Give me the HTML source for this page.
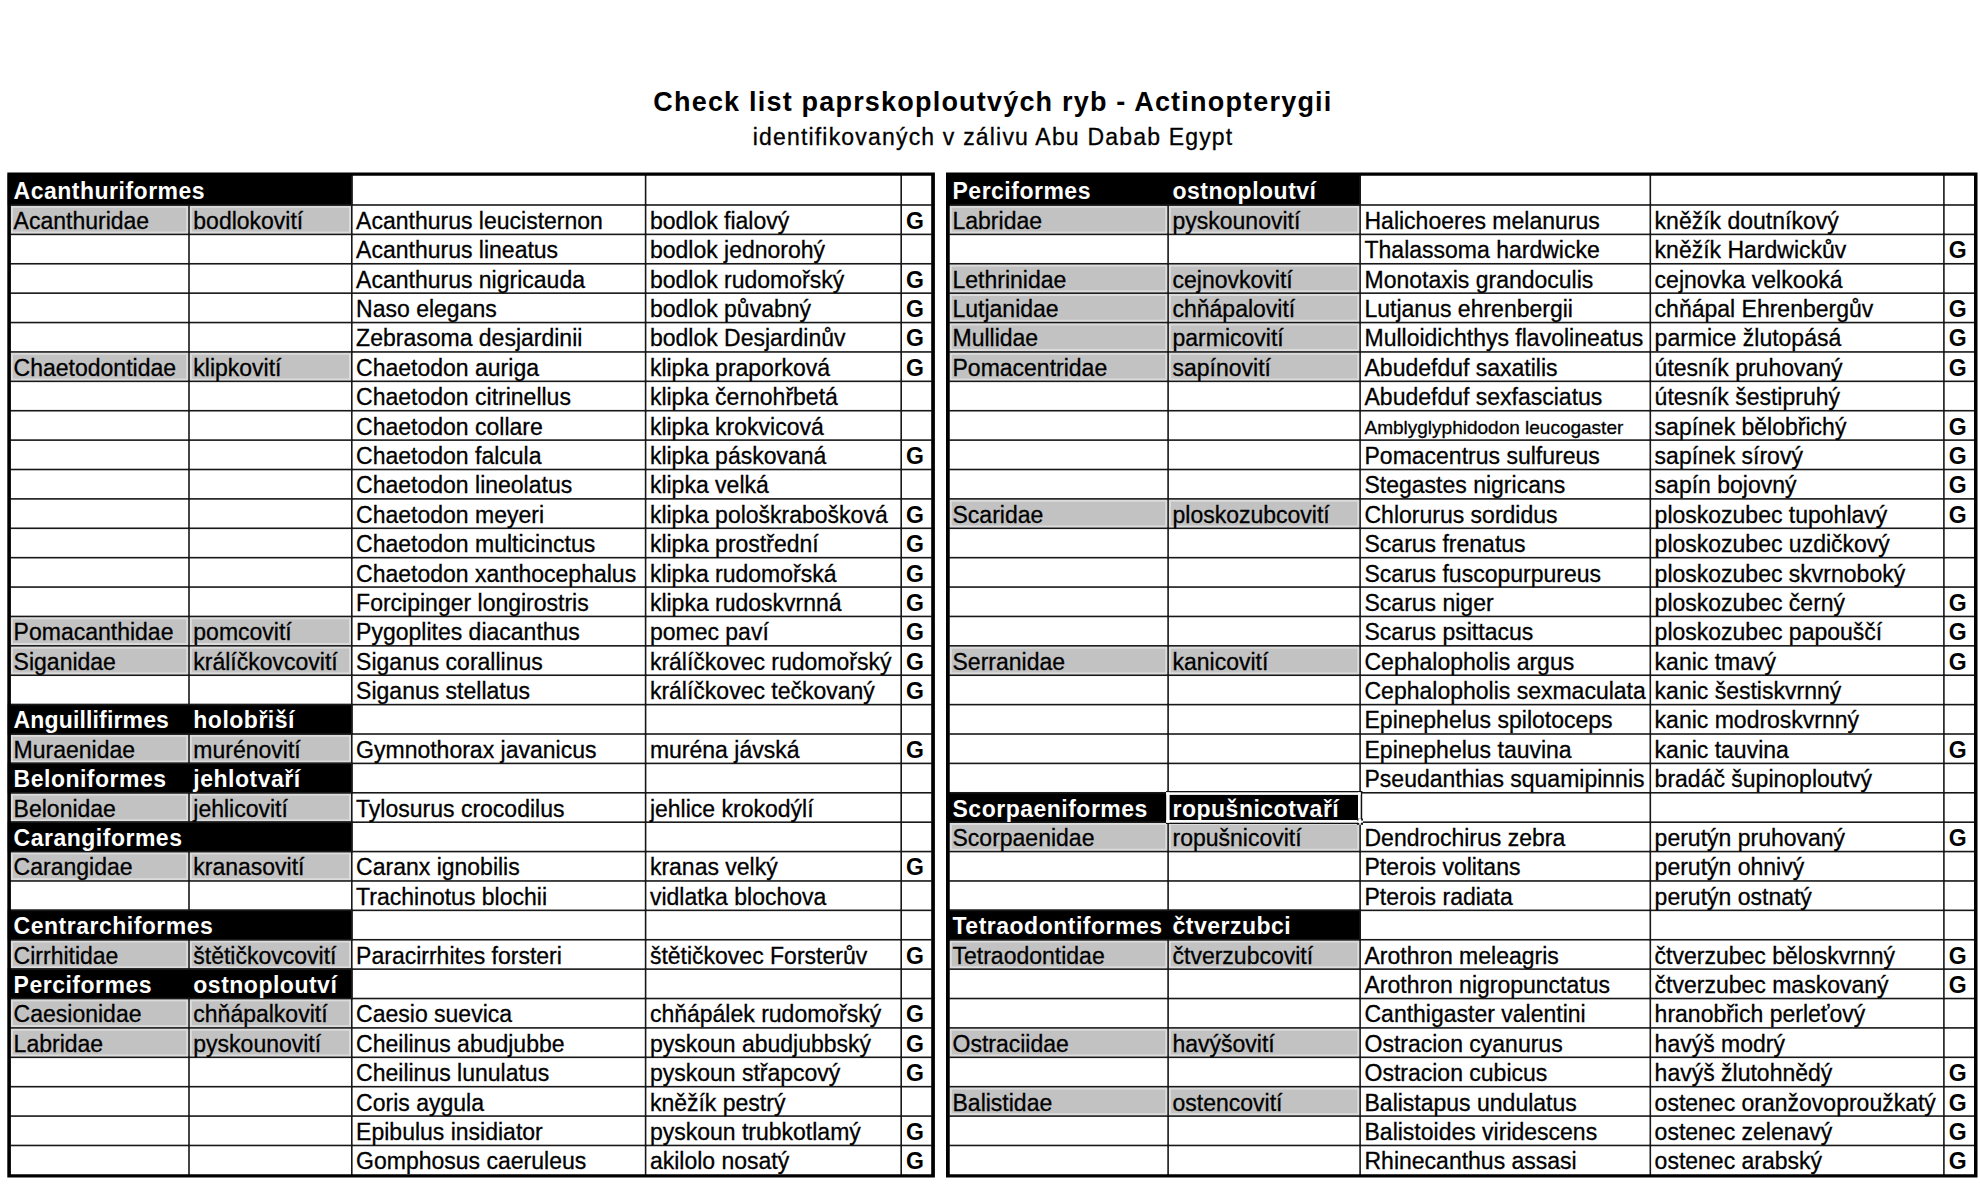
<!DOCTYPE html><html><head><meta charset="utf-8"><title>Check list</title><style>
html,body{margin:0;padding:0;background:#fff;}
body{width:1980px;height:1200px;position:relative;overflow:hidden;font-family:"Liberation Sans",sans-serif;}
svg{position:absolute;left:0;top:0;}
.t{position:absolute;white-space:nowrap;color:#000;}
.r{font-size:23px;line-height:26px;-webkit-text-stroke:0.3px #000;}
.g{font-size:23px;line-height:26px;font-weight:bold;}
.hb{font-size:23px;line-height:26px;font-weight:bold;color:#fff;letter-spacing:0.5px;}
.sm{font-size:19px;line-height:22px;-webkit-text-stroke:0.3px #000;}
.title{font-size:27px;line-height:30px;font-weight:bold;letter-spacing:1.2px;}
.sub{font-size:23px;line-height:26px;letter-spacing:1.185px;-webkit-text-stroke:0.3px #000;}
</style></head><body>
<svg width="1980" height="1200" viewBox="0 0 1980 1200">
<rect x="7.80" y="174.80" width="344.80" height="30.99" fill="#000"/>
<rect x="10.90" y="205.79" width="177.30" height="27.79" fill="#dcdcdc"/>
<rect x="12.90" y="207.79" width="173.30" height="23.79" fill="#c2c2c2"/>
<rect x="189.80" y="205.79" width="161.20" height="27.79" fill="#dcdcdc"/>
<rect x="191.80" y="207.79" width="157.20" height="23.79" fill="#c2c2c2"/>
<rect x="10.90" y="352.74" width="177.30" height="27.79" fill="#dcdcdc"/>
<rect x="12.90" y="354.74" width="173.30" height="23.79" fill="#c2c2c2"/>
<rect x="189.80" y="352.74" width="161.20" height="27.79" fill="#dcdcdc"/>
<rect x="191.80" y="354.74" width="157.20" height="23.79" fill="#c2c2c2"/>
<rect x="10.90" y="617.25" width="177.30" height="27.79" fill="#dcdcdc"/>
<rect x="12.90" y="619.25" width="173.30" height="23.79" fill="#c2c2c2"/>
<rect x="189.80" y="617.25" width="161.20" height="27.79" fill="#dcdcdc"/>
<rect x="191.80" y="619.25" width="157.20" height="23.79" fill="#c2c2c2"/>
<rect x="10.90" y="646.64" width="177.30" height="27.79" fill="#dcdcdc"/>
<rect x="12.90" y="648.64" width="173.30" height="23.79" fill="#c2c2c2"/>
<rect x="189.80" y="646.64" width="161.20" height="27.79" fill="#dcdcdc"/>
<rect x="191.80" y="648.64" width="157.20" height="23.79" fill="#c2c2c2"/>
<rect x="7.80" y="703.82" width="344.80" height="30.99" fill="#000"/>
<rect x="10.90" y="734.81" width="177.30" height="27.79" fill="#dcdcdc"/>
<rect x="12.90" y="736.81" width="173.30" height="23.79" fill="#c2c2c2"/>
<rect x="189.80" y="734.81" width="161.20" height="27.79" fill="#dcdcdc"/>
<rect x="191.80" y="736.81" width="157.20" height="23.79" fill="#c2c2c2"/>
<rect x="7.80" y="762.60" width="344.80" height="30.99" fill="#000"/>
<rect x="10.90" y="793.59" width="177.30" height="27.79" fill="#dcdcdc"/>
<rect x="12.90" y="795.59" width="173.30" height="23.79" fill="#c2c2c2"/>
<rect x="189.80" y="793.59" width="161.20" height="27.79" fill="#dcdcdc"/>
<rect x="191.80" y="795.59" width="157.20" height="23.79" fill="#c2c2c2"/>
<rect x="7.80" y="821.38" width="344.80" height="30.99" fill="#000"/>
<rect x="10.90" y="852.37" width="177.30" height="27.79" fill="#dcdcdc"/>
<rect x="12.90" y="854.37" width="173.30" height="23.79" fill="#c2c2c2"/>
<rect x="189.80" y="852.37" width="161.20" height="27.79" fill="#dcdcdc"/>
<rect x="191.80" y="854.37" width="157.20" height="23.79" fill="#c2c2c2"/>
<rect x="7.80" y="909.55" width="344.80" height="30.99" fill="#000"/>
<rect x="10.90" y="940.54" width="177.30" height="27.79" fill="#dcdcdc"/>
<rect x="12.90" y="942.54" width="173.30" height="23.79" fill="#c2c2c2"/>
<rect x="189.80" y="940.54" width="161.20" height="27.79" fill="#dcdcdc"/>
<rect x="191.80" y="942.54" width="157.20" height="23.79" fill="#c2c2c2"/>
<rect x="7.80" y="968.33" width="344.80" height="30.99" fill="#000"/>
<rect x="10.90" y="999.32" width="177.30" height="27.79" fill="#dcdcdc"/>
<rect x="12.90" y="1001.32" width="173.30" height="23.79" fill="#c2c2c2"/>
<rect x="189.80" y="999.32" width="161.20" height="27.79" fill="#dcdcdc"/>
<rect x="191.80" y="1001.32" width="157.20" height="23.79" fill="#c2c2c2"/>
<rect x="10.90" y="1028.71" width="177.30" height="27.79" fill="#dcdcdc"/>
<rect x="12.90" y="1030.71" width="173.30" height="23.79" fill="#c2c2c2"/>
<rect x="189.80" y="1028.71" width="161.20" height="27.79" fill="#dcdcdc"/>
<rect x="191.80" y="1030.71" width="157.20" height="23.79" fill="#c2c2c2"/>
<rect x="10.40" y="204.19" width="921.30" height="1.60" fill="#181818"/>
<rect x="10.40" y="233.58" width="921.30" height="1.60" fill="#181818"/>
<rect x="10.40" y="262.97" width="921.30" height="1.60" fill="#181818"/>
<rect x="10.40" y="292.36" width="921.30" height="1.60" fill="#181818"/>
<rect x="10.40" y="321.75" width="921.30" height="1.60" fill="#181818"/>
<rect x="10.40" y="351.14" width="921.30" height="1.60" fill="#181818"/>
<rect x="10.40" y="380.53" width="921.30" height="1.60" fill="#181818"/>
<rect x="10.40" y="409.92" width="921.30" height="1.60" fill="#181818"/>
<rect x="10.40" y="439.31" width="921.30" height="1.60" fill="#181818"/>
<rect x="10.40" y="468.70" width="921.30" height="1.60" fill="#181818"/>
<rect x="10.40" y="498.09" width="921.30" height="1.60" fill="#181818"/>
<rect x="10.40" y="527.48" width="921.30" height="1.60" fill="#181818"/>
<rect x="10.40" y="556.87" width="921.30" height="1.60" fill="#181818"/>
<rect x="10.40" y="586.26" width="921.30" height="1.60" fill="#181818"/>
<rect x="10.40" y="615.65" width="921.30" height="1.60" fill="#181818"/>
<rect x="10.40" y="645.04" width="921.30" height="1.60" fill="#181818"/>
<rect x="10.40" y="674.43" width="921.30" height="1.60" fill="#181818"/>
<rect x="10.40" y="703.82" width="921.30" height="1.60" fill="#181818"/>
<rect x="10.40" y="733.21" width="921.30" height="1.60" fill="#181818"/>
<rect x="10.40" y="762.60" width="921.30" height="1.60" fill="#181818"/>
<rect x="10.40" y="791.99" width="921.30" height="1.60" fill="#181818"/>
<rect x="10.40" y="821.38" width="921.30" height="1.60" fill="#181818"/>
<rect x="10.40" y="850.77" width="921.30" height="1.60" fill="#181818"/>
<rect x="10.40" y="880.16" width="921.30" height="1.60" fill="#181818"/>
<rect x="10.40" y="909.55" width="921.30" height="1.60" fill="#181818"/>
<rect x="10.40" y="938.94" width="921.30" height="1.60" fill="#181818"/>
<rect x="10.40" y="968.33" width="921.30" height="1.60" fill="#181818"/>
<rect x="10.40" y="997.72" width="921.30" height="1.60" fill="#181818"/>
<rect x="10.40" y="1027.11" width="921.30" height="1.60" fill="#181818"/>
<rect x="10.40" y="1056.50" width="921.30" height="1.60" fill="#181818"/>
<rect x="10.40" y="1085.89" width="921.30" height="1.60" fill="#181818"/>
<rect x="10.40" y="1115.28" width="921.30" height="1.60" fill="#181818"/>
<rect x="10.40" y="1144.67" width="921.30" height="1.60" fill="#181818"/>
<rect x="188.20" y="204.19" width="1.60" height="30.99" fill="#181818"/>
<rect x="188.20" y="233.58" width="1.60" height="30.99" fill="#181818"/>
<rect x="188.20" y="262.97" width="1.60" height="30.99" fill="#181818"/>
<rect x="188.20" y="292.36" width="1.60" height="30.99" fill="#181818"/>
<rect x="188.20" y="321.75" width="1.60" height="30.99" fill="#181818"/>
<rect x="188.20" y="351.14" width="1.60" height="30.99" fill="#181818"/>
<rect x="188.20" y="380.53" width="1.60" height="30.99" fill="#181818"/>
<rect x="188.20" y="409.92" width="1.60" height="30.99" fill="#181818"/>
<rect x="188.20" y="439.31" width="1.60" height="30.99" fill="#181818"/>
<rect x="188.20" y="468.70" width="1.60" height="30.99" fill="#181818"/>
<rect x="188.20" y="498.09" width="1.60" height="30.99" fill="#181818"/>
<rect x="188.20" y="527.48" width="1.60" height="30.99" fill="#181818"/>
<rect x="188.20" y="556.87" width="1.60" height="30.99" fill="#181818"/>
<rect x="188.20" y="586.26" width="1.60" height="30.99" fill="#181818"/>
<rect x="188.20" y="615.65" width="1.60" height="30.99" fill="#181818"/>
<rect x="188.20" y="645.04" width="1.60" height="30.99" fill="#181818"/>
<rect x="188.20" y="674.43" width="1.60" height="30.99" fill="#181818"/>
<rect x="188.20" y="733.21" width="1.60" height="30.99" fill="#181818"/>
<rect x="188.20" y="791.99" width="1.60" height="30.99" fill="#181818"/>
<rect x="188.20" y="850.77" width="1.60" height="30.99" fill="#181818"/>
<rect x="188.20" y="880.16" width="1.60" height="30.99" fill="#181818"/>
<rect x="188.20" y="938.94" width="1.60" height="30.99" fill="#181818"/>
<rect x="188.20" y="997.72" width="1.60" height="30.99" fill="#181818"/>
<rect x="188.20" y="1027.11" width="1.60" height="30.99" fill="#181818"/>
<rect x="188.20" y="1056.50" width="1.60" height="30.99" fill="#181818"/>
<rect x="188.20" y="1085.89" width="1.60" height="30.99" fill="#181818"/>
<rect x="188.20" y="1115.28" width="1.60" height="30.99" fill="#181818"/>
<rect x="188.20" y="1144.67" width="1.60" height="30.99" fill="#181818"/>
<rect x="351.00" y="174.80" width="1.60" height="30.99" fill="#181818"/>
<rect x="351.00" y="204.19" width="1.60" height="30.99" fill="#181818"/>
<rect x="351.00" y="233.58" width="1.60" height="30.99" fill="#181818"/>
<rect x="351.00" y="262.97" width="1.60" height="30.99" fill="#181818"/>
<rect x="351.00" y="292.36" width="1.60" height="30.99" fill="#181818"/>
<rect x="351.00" y="321.75" width="1.60" height="30.99" fill="#181818"/>
<rect x="351.00" y="351.14" width="1.60" height="30.99" fill="#181818"/>
<rect x="351.00" y="380.53" width="1.60" height="30.99" fill="#181818"/>
<rect x="351.00" y="409.92" width="1.60" height="30.99" fill="#181818"/>
<rect x="351.00" y="439.31" width="1.60" height="30.99" fill="#181818"/>
<rect x="351.00" y="468.70" width="1.60" height="30.99" fill="#181818"/>
<rect x="351.00" y="498.09" width="1.60" height="30.99" fill="#181818"/>
<rect x="351.00" y="527.48" width="1.60" height="30.99" fill="#181818"/>
<rect x="351.00" y="556.87" width="1.60" height="30.99" fill="#181818"/>
<rect x="351.00" y="586.26" width="1.60" height="30.99" fill="#181818"/>
<rect x="351.00" y="615.65" width="1.60" height="30.99" fill="#181818"/>
<rect x="351.00" y="645.04" width="1.60" height="30.99" fill="#181818"/>
<rect x="351.00" y="674.43" width="1.60" height="30.99" fill="#181818"/>
<rect x="351.00" y="703.82" width="1.60" height="30.99" fill="#181818"/>
<rect x="351.00" y="733.21" width="1.60" height="30.99" fill="#181818"/>
<rect x="351.00" y="762.60" width="1.60" height="30.99" fill="#181818"/>
<rect x="351.00" y="791.99" width="1.60" height="30.99" fill="#181818"/>
<rect x="351.00" y="821.38" width="1.60" height="30.99" fill="#181818"/>
<rect x="351.00" y="850.77" width="1.60" height="30.99" fill="#181818"/>
<rect x="351.00" y="880.16" width="1.60" height="30.99" fill="#181818"/>
<rect x="351.00" y="909.55" width="1.60" height="30.99" fill="#181818"/>
<rect x="351.00" y="938.94" width="1.60" height="30.99" fill="#181818"/>
<rect x="351.00" y="968.33" width="1.60" height="30.99" fill="#181818"/>
<rect x="351.00" y="997.72" width="1.60" height="30.99" fill="#181818"/>
<rect x="351.00" y="1027.11" width="1.60" height="30.99" fill="#181818"/>
<rect x="351.00" y="1056.50" width="1.60" height="30.99" fill="#181818"/>
<rect x="351.00" y="1085.89" width="1.60" height="30.99" fill="#181818"/>
<rect x="351.00" y="1115.28" width="1.60" height="30.99" fill="#181818"/>
<rect x="351.00" y="1144.67" width="1.60" height="30.99" fill="#181818"/>
<rect x="644.80" y="174.80" width="1.60" height="30.99" fill="#181818"/>
<rect x="644.80" y="204.19" width="1.60" height="30.99" fill="#181818"/>
<rect x="644.80" y="233.58" width="1.60" height="30.99" fill="#181818"/>
<rect x="644.80" y="262.97" width="1.60" height="30.99" fill="#181818"/>
<rect x="644.80" y="292.36" width="1.60" height="30.99" fill="#181818"/>
<rect x="644.80" y="321.75" width="1.60" height="30.99" fill="#181818"/>
<rect x="644.80" y="351.14" width="1.60" height="30.99" fill="#181818"/>
<rect x="644.80" y="380.53" width="1.60" height="30.99" fill="#181818"/>
<rect x="644.80" y="409.92" width="1.60" height="30.99" fill="#181818"/>
<rect x="644.80" y="439.31" width="1.60" height="30.99" fill="#181818"/>
<rect x="644.80" y="468.70" width="1.60" height="30.99" fill="#181818"/>
<rect x="644.80" y="498.09" width="1.60" height="30.99" fill="#181818"/>
<rect x="644.80" y="527.48" width="1.60" height="30.99" fill="#181818"/>
<rect x="644.80" y="556.87" width="1.60" height="30.99" fill="#181818"/>
<rect x="644.80" y="586.26" width="1.60" height="30.99" fill="#181818"/>
<rect x="644.80" y="615.65" width="1.60" height="30.99" fill="#181818"/>
<rect x="644.80" y="645.04" width="1.60" height="30.99" fill="#181818"/>
<rect x="644.80" y="674.43" width="1.60" height="30.99" fill="#181818"/>
<rect x="644.80" y="703.82" width="1.60" height="30.99" fill="#181818"/>
<rect x="644.80" y="733.21" width="1.60" height="30.99" fill="#181818"/>
<rect x="644.80" y="762.60" width="1.60" height="30.99" fill="#181818"/>
<rect x="644.80" y="791.99" width="1.60" height="30.99" fill="#181818"/>
<rect x="644.80" y="821.38" width="1.60" height="30.99" fill="#181818"/>
<rect x="644.80" y="850.77" width="1.60" height="30.99" fill="#181818"/>
<rect x="644.80" y="880.16" width="1.60" height="30.99" fill="#181818"/>
<rect x="644.80" y="909.55" width="1.60" height="30.99" fill="#181818"/>
<rect x="644.80" y="938.94" width="1.60" height="30.99" fill="#181818"/>
<rect x="644.80" y="968.33" width="1.60" height="30.99" fill="#181818"/>
<rect x="644.80" y="997.72" width="1.60" height="30.99" fill="#181818"/>
<rect x="644.80" y="1027.11" width="1.60" height="30.99" fill="#181818"/>
<rect x="644.80" y="1056.50" width="1.60" height="30.99" fill="#181818"/>
<rect x="644.80" y="1085.89" width="1.60" height="30.99" fill="#181818"/>
<rect x="644.80" y="1115.28" width="1.60" height="30.99" fill="#181818"/>
<rect x="644.80" y="1144.67" width="1.60" height="30.99" fill="#181818"/>
<rect x="900.40" y="174.80" width="1.60" height="30.99" fill="#181818"/>
<rect x="900.40" y="204.19" width="1.60" height="30.99" fill="#181818"/>
<rect x="900.40" y="233.58" width="1.60" height="30.99" fill="#181818"/>
<rect x="900.40" y="262.97" width="1.60" height="30.99" fill="#181818"/>
<rect x="900.40" y="292.36" width="1.60" height="30.99" fill="#181818"/>
<rect x="900.40" y="321.75" width="1.60" height="30.99" fill="#181818"/>
<rect x="900.40" y="351.14" width="1.60" height="30.99" fill="#181818"/>
<rect x="900.40" y="380.53" width="1.60" height="30.99" fill="#181818"/>
<rect x="900.40" y="409.92" width="1.60" height="30.99" fill="#181818"/>
<rect x="900.40" y="439.31" width="1.60" height="30.99" fill="#181818"/>
<rect x="900.40" y="468.70" width="1.60" height="30.99" fill="#181818"/>
<rect x="900.40" y="498.09" width="1.60" height="30.99" fill="#181818"/>
<rect x="900.40" y="527.48" width="1.60" height="30.99" fill="#181818"/>
<rect x="900.40" y="556.87" width="1.60" height="30.99" fill="#181818"/>
<rect x="900.40" y="586.26" width="1.60" height="30.99" fill="#181818"/>
<rect x="900.40" y="615.65" width="1.60" height="30.99" fill="#181818"/>
<rect x="900.40" y="645.04" width="1.60" height="30.99" fill="#181818"/>
<rect x="900.40" y="674.43" width="1.60" height="30.99" fill="#181818"/>
<rect x="900.40" y="703.82" width="1.60" height="30.99" fill="#181818"/>
<rect x="900.40" y="733.21" width="1.60" height="30.99" fill="#181818"/>
<rect x="900.40" y="762.60" width="1.60" height="30.99" fill="#181818"/>
<rect x="900.40" y="791.99" width="1.60" height="30.99" fill="#181818"/>
<rect x="900.40" y="821.38" width="1.60" height="30.99" fill="#181818"/>
<rect x="900.40" y="850.77" width="1.60" height="30.99" fill="#181818"/>
<rect x="900.40" y="880.16" width="1.60" height="30.99" fill="#181818"/>
<rect x="900.40" y="909.55" width="1.60" height="30.99" fill="#181818"/>
<rect x="900.40" y="938.94" width="1.60" height="30.99" fill="#181818"/>
<rect x="900.40" y="968.33" width="1.60" height="30.99" fill="#181818"/>
<rect x="900.40" y="997.72" width="1.60" height="30.99" fill="#181818"/>
<rect x="900.40" y="1027.11" width="1.60" height="30.99" fill="#181818"/>
<rect x="900.40" y="1056.50" width="1.60" height="30.99" fill="#181818"/>
<rect x="900.40" y="1085.89" width="1.60" height="30.99" fill="#181818"/>
<rect x="900.40" y="1115.28" width="1.60" height="30.99" fill="#181818"/>
<rect x="900.40" y="1144.67" width="1.60" height="30.99" fill="#181818"/>
<path fill="#000" fill-rule="evenodd" d="M7.30 172.60H934.90V1177.60H7.30Z M10.90 175.80V1174.20H931.20V175.80Z"/>
<rect x="946.50" y="174.80" width="414.40" height="30.99" fill="#000"/>
<rect x="949.75" y="205.79" width="217.55" height="27.79" fill="#dcdcdc"/>
<rect x="951.75" y="207.79" width="213.55" height="23.79" fill="#c2c2c2"/>
<rect x="1168.90" y="205.79" width="190.40" height="27.79" fill="#dcdcdc"/>
<rect x="1170.90" y="207.79" width="186.40" height="23.79" fill="#c2c2c2"/>
<rect x="949.75" y="264.57" width="217.55" height="27.79" fill="#dcdcdc"/>
<rect x="951.75" y="266.57" width="213.55" height="23.79" fill="#c2c2c2"/>
<rect x="1168.90" y="264.57" width="190.40" height="27.79" fill="#dcdcdc"/>
<rect x="1170.90" y="266.57" width="186.40" height="23.79" fill="#c2c2c2"/>
<rect x="949.75" y="293.96" width="217.55" height="27.79" fill="#dcdcdc"/>
<rect x="951.75" y="295.96" width="213.55" height="23.79" fill="#c2c2c2"/>
<rect x="1168.90" y="293.96" width="190.40" height="27.79" fill="#dcdcdc"/>
<rect x="1170.90" y="295.96" width="186.40" height="23.79" fill="#c2c2c2"/>
<rect x="949.75" y="323.35" width="217.55" height="27.79" fill="#dcdcdc"/>
<rect x="951.75" y="325.35" width="213.55" height="23.79" fill="#c2c2c2"/>
<rect x="1168.90" y="323.35" width="190.40" height="27.79" fill="#dcdcdc"/>
<rect x="1170.90" y="325.35" width="186.40" height="23.79" fill="#c2c2c2"/>
<rect x="949.75" y="352.74" width="217.55" height="27.79" fill="#dcdcdc"/>
<rect x="951.75" y="354.74" width="213.55" height="23.79" fill="#c2c2c2"/>
<rect x="1168.90" y="352.74" width="190.40" height="27.79" fill="#dcdcdc"/>
<rect x="1170.90" y="354.74" width="186.40" height="23.79" fill="#c2c2c2"/>
<rect x="949.75" y="499.69" width="217.55" height="27.79" fill="#dcdcdc"/>
<rect x="951.75" y="501.69" width="213.55" height="23.79" fill="#c2c2c2"/>
<rect x="1168.90" y="499.69" width="190.40" height="27.79" fill="#dcdcdc"/>
<rect x="1170.90" y="501.69" width="186.40" height="23.79" fill="#c2c2c2"/>
<rect x="949.75" y="646.64" width="217.55" height="27.79" fill="#dcdcdc"/>
<rect x="951.75" y="648.64" width="213.55" height="23.79" fill="#c2c2c2"/>
<rect x="1168.90" y="646.64" width="190.40" height="27.79" fill="#dcdcdc"/>
<rect x="1170.90" y="648.64" width="186.40" height="23.79" fill="#c2c2c2"/>
<rect x="946.50" y="791.99" width="414.40" height="30.99" fill="#000"/>
<rect x="949.75" y="822.98" width="217.55" height="27.79" fill="#dcdcdc"/>
<rect x="951.75" y="824.98" width="213.55" height="23.79" fill="#c2c2c2"/>
<rect x="1168.90" y="822.98" width="190.40" height="27.79" fill="#dcdcdc"/>
<rect x="1170.90" y="824.98" width="186.40" height="23.79" fill="#c2c2c2"/>
<rect x="946.50" y="909.55" width="414.40" height="30.99" fill="#000"/>
<rect x="949.75" y="940.54" width="217.55" height="27.79" fill="#dcdcdc"/>
<rect x="951.75" y="942.54" width="213.55" height="23.79" fill="#c2c2c2"/>
<rect x="1168.90" y="940.54" width="190.40" height="27.79" fill="#dcdcdc"/>
<rect x="1170.90" y="942.54" width="186.40" height="23.79" fill="#c2c2c2"/>
<rect x="949.75" y="1028.71" width="217.55" height="27.79" fill="#dcdcdc"/>
<rect x="951.75" y="1030.71" width="213.55" height="23.79" fill="#c2c2c2"/>
<rect x="1168.90" y="1028.71" width="190.40" height="27.79" fill="#dcdcdc"/>
<rect x="1170.90" y="1030.71" width="186.40" height="23.79" fill="#c2c2c2"/>
<rect x="949.75" y="1087.49" width="217.55" height="27.79" fill="#dcdcdc"/>
<rect x="951.75" y="1089.49" width="213.55" height="23.79" fill="#c2c2c2"/>
<rect x="1168.90" y="1087.49" width="190.40" height="27.79" fill="#dcdcdc"/>
<rect x="1170.90" y="1089.49" width="186.40" height="23.79" fill="#c2c2c2"/>
<rect x="949.25" y="204.19" width="1025.25" height="1.60" fill="#181818"/>
<rect x="949.25" y="233.58" width="1025.25" height="1.60" fill="#181818"/>
<rect x="949.25" y="262.97" width="1025.25" height="1.60" fill="#181818"/>
<rect x="949.25" y="292.36" width="1025.25" height="1.60" fill="#181818"/>
<rect x="949.25" y="321.75" width="1025.25" height="1.60" fill="#181818"/>
<rect x="949.25" y="351.14" width="1025.25" height="1.60" fill="#181818"/>
<rect x="949.25" y="380.53" width="1025.25" height="1.60" fill="#181818"/>
<rect x="949.25" y="409.92" width="1025.25" height="1.60" fill="#181818"/>
<rect x="949.25" y="439.31" width="1025.25" height="1.60" fill="#181818"/>
<rect x="949.25" y="468.70" width="1025.25" height="1.60" fill="#181818"/>
<rect x="949.25" y="498.09" width="1025.25" height="1.60" fill="#181818"/>
<rect x="949.25" y="527.48" width="1025.25" height="1.60" fill="#181818"/>
<rect x="949.25" y="556.87" width="1025.25" height="1.60" fill="#181818"/>
<rect x="949.25" y="586.26" width="1025.25" height="1.60" fill="#181818"/>
<rect x="949.25" y="615.65" width="1025.25" height="1.60" fill="#181818"/>
<rect x="949.25" y="645.04" width="1025.25" height="1.60" fill="#181818"/>
<rect x="949.25" y="674.43" width="1025.25" height="1.60" fill="#181818"/>
<rect x="949.25" y="703.82" width="1025.25" height="1.60" fill="#181818"/>
<rect x="949.25" y="733.21" width="1025.25" height="1.60" fill="#181818"/>
<rect x="949.25" y="762.60" width="1025.25" height="1.60" fill="#181818"/>
<rect x="949.25" y="791.99" width="1025.25" height="1.60" fill="#181818"/>
<rect x="949.25" y="821.38" width="1025.25" height="1.60" fill="#181818"/>
<rect x="949.25" y="850.77" width="1025.25" height="1.60" fill="#181818"/>
<rect x="949.25" y="880.16" width="1025.25" height="1.60" fill="#181818"/>
<rect x="949.25" y="909.55" width="1025.25" height="1.60" fill="#181818"/>
<rect x="949.25" y="938.94" width="1025.25" height="1.60" fill="#181818"/>
<rect x="949.25" y="968.33" width="1025.25" height="1.60" fill="#181818"/>
<rect x="949.25" y="997.72" width="1025.25" height="1.60" fill="#181818"/>
<rect x="949.25" y="1027.11" width="1025.25" height="1.60" fill="#181818"/>
<rect x="949.25" y="1056.50" width="1025.25" height="1.60" fill="#181818"/>
<rect x="949.25" y="1085.89" width="1025.25" height="1.60" fill="#181818"/>
<rect x="949.25" y="1115.28" width="1025.25" height="1.60" fill="#181818"/>
<rect x="949.25" y="1144.67" width="1025.25" height="1.60" fill="#181818"/>
<rect x="1167.30" y="204.19" width="1.60" height="30.99" fill="#181818"/>
<rect x="1167.30" y="233.58" width="1.60" height="30.99" fill="#181818"/>
<rect x="1167.30" y="262.97" width="1.60" height="30.99" fill="#181818"/>
<rect x="1167.30" y="292.36" width="1.60" height="30.99" fill="#181818"/>
<rect x="1167.30" y="321.75" width="1.60" height="30.99" fill="#181818"/>
<rect x="1167.30" y="351.14" width="1.60" height="30.99" fill="#181818"/>
<rect x="1167.30" y="380.53" width="1.60" height="30.99" fill="#181818"/>
<rect x="1167.30" y="409.92" width="1.60" height="30.99" fill="#181818"/>
<rect x="1167.30" y="439.31" width="1.60" height="30.99" fill="#181818"/>
<rect x="1167.30" y="468.70" width="1.60" height="30.99" fill="#181818"/>
<rect x="1167.30" y="498.09" width="1.60" height="30.99" fill="#181818"/>
<rect x="1167.30" y="527.48" width="1.60" height="30.99" fill="#181818"/>
<rect x="1167.30" y="556.87" width="1.60" height="30.99" fill="#181818"/>
<rect x="1167.30" y="586.26" width="1.60" height="30.99" fill="#181818"/>
<rect x="1167.30" y="615.65" width="1.60" height="30.99" fill="#181818"/>
<rect x="1167.30" y="645.04" width="1.60" height="30.99" fill="#181818"/>
<rect x="1167.30" y="674.43" width="1.60" height="30.99" fill="#181818"/>
<rect x="1167.30" y="703.82" width="1.60" height="30.99" fill="#181818"/>
<rect x="1167.30" y="733.21" width="1.60" height="30.99" fill="#181818"/>
<rect x="1167.30" y="762.60" width="1.60" height="30.99" fill="#181818"/>
<rect x="1167.30" y="821.38" width="1.60" height="30.99" fill="#181818"/>
<rect x="1167.30" y="850.77" width="1.60" height="30.99" fill="#181818"/>
<rect x="1167.30" y="880.16" width="1.60" height="30.99" fill="#181818"/>
<rect x="1167.30" y="938.94" width="1.60" height="30.99" fill="#181818"/>
<rect x="1167.30" y="968.33" width="1.60" height="30.99" fill="#181818"/>
<rect x="1167.30" y="997.72" width="1.60" height="30.99" fill="#181818"/>
<rect x="1167.30" y="1027.11" width="1.60" height="30.99" fill="#181818"/>
<rect x="1167.30" y="1056.50" width="1.60" height="30.99" fill="#181818"/>
<rect x="1167.30" y="1085.89" width="1.60" height="30.99" fill="#181818"/>
<rect x="1167.30" y="1115.28" width="1.60" height="30.99" fill="#181818"/>
<rect x="1167.30" y="1144.67" width="1.60" height="30.99" fill="#181818"/>
<rect x="1359.30" y="174.80" width="1.60" height="30.99" fill="#181818"/>
<rect x="1359.30" y="204.19" width="1.60" height="30.99" fill="#181818"/>
<rect x="1359.30" y="233.58" width="1.60" height="30.99" fill="#181818"/>
<rect x="1359.30" y="262.97" width="1.60" height="30.99" fill="#181818"/>
<rect x="1359.30" y="292.36" width="1.60" height="30.99" fill="#181818"/>
<rect x="1359.30" y="321.75" width="1.60" height="30.99" fill="#181818"/>
<rect x="1359.30" y="351.14" width="1.60" height="30.99" fill="#181818"/>
<rect x="1359.30" y="380.53" width="1.60" height="30.99" fill="#181818"/>
<rect x="1359.30" y="409.92" width="1.60" height="30.99" fill="#181818"/>
<rect x="1359.30" y="439.31" width="1.60" height="30.99" fill="#181818"/>
<rect x="1359.30" y="468.70" width="1.60" height="30.99" fill="#181818"/>
<rect x="1359.30" y="498.09" width="1.60" height="30.99" fill="#181818"/>
<rect x="1359.30" y="527.48" width="1.60" height="30.99" fill="#181818"/>
<rect x="1359.30" y="556.87" width="1.60" height="30.99" fill="#181818"/>
<rect x="1359.30" y="586.26" width="1.60" height="30.99" fill="#181818"/>
<rect x="1359.30" y="615.65" width="1.60" height="30.99" fill="#181818"/>
<rect x="1359.30" y="645.04" width="1.60" height="30.99" fill="#181818"/>
<rect x="1359.30" y="674.43" width="1.60" height="30.99" fill="#181818"/>
<rect x="1359.30" y="703.82" width="1.60" height="30.99" fill="#181818"/>
<rect x="1359.30" y="733.21" width="1.60" height="30.99" fill="#181818"/>
<rect x="1359.30" y="762.60" width="1.60" height="30.99" fill="#181818"/>
<rect x="1359.30" y="791.99" width="1.60" height="30.99" fill="#181818"/>
<rect x="1359.30" y="821.38" width="1.60" height="30.99" fill="#181818"/>
<rect x="1359.30" y="850.77" width="1.60" height="30.99" fill="#181818"/>
<rect x="1359.30" y="880.16" width="1.60" height="30.99" fill="#181818"/>
<rect x="1359.30" y="909.55" width="1.60" height="30.99" fill="#181818"/>
<rect x="1359.30" y="938.94" width="1.60" height="30.99" fill="#181818"/>
<rect x="1359.30" y="968.33" width="1.60" height="30.99" fill="#181818"/>
<rect x="1359.30" y="997.72" width="1.60" height="30.99" fill="#181818"/>
<rect x="1359.30" y="1027.11" width="1.60" height="30.99" fill="#181818"/>
<rect x="1359.30" y="1056.50" width="1.60" height="30.99" fill="#181818"/>
<rect x="1359.30" y="1085.89" width="1.60" height="30.99" fill="#181818"/>
<rect x="1359.30" y="1115.28" width="1.60" height="30.99" fill="#181818"/>
<rect x="1359.30" y="1144.67" width="1.60" height="30.99" fill="#181818"/>
<rect x="1649.50" y="174.80" width="1.60" height="30.99" fill="#181818"/>
<rect x="1649.50" y="204.19" width="1.60" height="30.99" fill="#181818"/>
<rect x="1649.50" y="233.58" width="1.60" height="30.99" fill="#181818"/>
<rect x="1649.50" y="262.97" width="1.60" height="30.99" fill="#181818"/>
<rect x="1649.50" y="292.36" width="1.60" height="30.99" fill="#181818"/>
<rect x="1649.50" y="321.75" width="1.60" height="30.99" fill="#181818"/>
<rect x="1649.50" y="351.14" width="1.60" height="30.99" fill="#181818"/>
<rect x="1649.50" y="380.53" width="1.60" height="30.99" fill="#181818"/>
<rect x="1649.50" y="409.92" width="1.60" height="30.99" fill="#181818"/>
<rect x="1649.50" y="439.31" width="1.60" height="30.99" fill="#181818"/>
<rect x="1649.50" y="468.70" width="1.60" height="30.99" fill="#181818"/>
<rect x="1649.50" y="498.09" width="1.60" height="30.99" fill="#181818"/>
<rect x="1649.50" y="527.48" width="1.60" height="30.99" fill="#181818"/>
<rect x="1649.50" y="556.87" width="1.60" height="30.99" fill="#181818"/>
<rect x="1649.50" y="586.26" width="1.60" height="30.99" fill="#181818"/>
<rect x="1649.50" y="615.65" width="1.60" height="30.99" fill="#181818"/>
<rect x="1649.50" y="645.04" width="1.60" height="30.99" fill="#181818"/>
<rect x="1649.50" y="674.43" width="1.60" height="30.99" fill="#181818"/>
<rect x="1649.50" y="703.82" width="1.60" height="30.99" fill="#181818"/>
<rect x="1649.50" y="733.21" width="1.60" height="30.99" fill="#181818"/>
<rect x="1649.50" y="762.60" width="1.60" height="30.99" fill="#181818"/>
<rect x="1649.50" y="791.99" width="1.60" height="30.99" fill="#181818"/>
<rect x="1649.50" y="821.38" width="1.60" height="30.99" fill="#181818"/>
<rect x="1649.50" y="850.77" width="1.60" height="30.99" fill="#181818"/>
<rect x="1649.50" y="880.16" width="1.60" height="30.99" fill="#181818"/>
<rect x="1649.50" y="909.55" width="1.60" height="30.99" fill="#181818"/>
<rect x="1649.50" y="938.94" width="1.60" height="30.99" fill="#181818"/>
<rect x="1649.50" y="968.33" width="1.60" height="30.99" fill="#181818"/>
<rect x="1649.50" y="997.72" width="1.60" height="30.99" fill="#181818"/>
<rect x="1649.50" y="1027.11" width="1.60" height="30.99" fill="#181818"/>
<rect x="1649.50" y="1056.50" width="1.60" height="30.99" fill="#181818"/>
<rect x="1649.50" y="1085.89" width="1.60" height="30.99" fill="#181818"/>
<rect x="1649.50" y="1115.28" width="1.60" height="30.99" fill="#181818"/>
<rect x="1649.50" y="1144.67" width="1.60" height="30.99" fill="#181818"/>
<rect x="1943.10" y="174.80" width="1.60" height="30.99" fill="#181818"/>
<rect x="1943.10" y="204.19" width="1.60" height="30.99" fill="#181818"/>
<rect x="1943.10" y="233.58" width="1.60" height="30.99" fill="#181818"/>
<rect x="1943.10" y="262.97" width="1.60" height="30.99" fill="#181818"/>
<rect x="1943.10" y="292.36" width="1.60" height="30.99" fill="#181818"/>
<rect x="1943.10" y="321.75" width="1.60" height="30.99" fill="#181818"/>
<rect x="1943.10" y="351.14" width="1.60" height="30.99" fill="#181818"/>
<rect x="1943.10" y="380.53" width="1.60" height="30.99" fill="#181818"/>
<rect x="1943.10" y="409.92" width="1.60" height="30.99" fill="#181818"/>
<rect x="1943.10" y="439.31" width="1.60" height="30.99" fill="#181818"/>
<rect x="1943.10" y="468.70" width="1.60" height="30.99" fill="#181818"/>
<rect x="1943.10" y="498.09" width="1.60" height="30.99" fill="#181818"/>
<rect x="1943.10" y="527.48" width="1.60" height="30.99" fill="#181818"/>
<rect x="1943.10" y="556.87" width="1.60" height="30.99" fill="#181818"/>
<rect x="1943.10" y="586.26" width="1.60" height="30.99" fill="#181818"/>
<rect x="1943.10" y="615.65" width="1.60" height="30.99" fill="#181818"/>
<rect x="1943.10" y="645.04" width="1.60" height="30.99" fill="#181818"/>
<rect x="1943.10" y="674.43" width="1.60" height="30.99" fill="#181818"/>
<rect x="1943.10" y="703.82" width="1.60" height="30.99" fill="#181818"/>
<rect x="1943.10" y="733.21" width="1.60" height="30.99" fill="#181818"/>
<rect x="1943.10" y="762.60" width="1.60" height="30.99" fill="#181818"/>
<rect x="1943.10" y="791.99" width="1.60" height="30.99" fill="#181818"/>
<rect x="1943.10" y="821.38" width="1.60" height="30.99" fill="#181818"/>
<rect x="1943.10" y="850.77" width="1.60" height="30.99" fill="#181818"/>
<rect x="1943.10" y="880.16" width="1.60" height="30.99" fill="#181818"/>
<rect x="1943.10" y="909.55" width="1.60" height="30.99" fill="#181818"/>
<rect x="1943.10" y="938.94" width="1.60" height="30.99" fill="#181818"/>
<rect x="1943.10" y="968.33" width="1.60" height="30.99" fill="#181818"/>
<rect x="1943.10" y="997.72" width="1.60" height="30.99" fill="#181818"/>
<rect x="1943.10" y="1027.11" width="1.60" height="30.99" fill="#181818"/>
<rect x="1943.10" y="1056.50" width="1.60" height="30.99" fill="#181818"/>
<rect x="1943.10" y="1085.89" width="1.60" height="30.99" fill="#181818"/>
<rect x="1943.10" y="1115.28" width="1.60" height="30.99" fill="#181818"/>
<rect x="1943.10" y="1144.67" width="1.60" height="30.99" fill="#181818"/>
<path fill="#000" fill-rule="evenodd" d="M946.00 172.60H1977.50V1177.60H946.00Z M949.75 175.80V1174.20H1974.00V175.80Z"/>
<rect x="1166.00" y="791.00" width="196.20" height="1.30" fill="#111"/>
<rect x="1166.00" y="822.70" width="196.20" height="1.30" fill="#111"/>
<rect x="1360.70" y="791.00" width="1.50" height="33.00" fill="#111"/>
<rect x="1166.20" y="792.30" width="194.50" height="2.60" fill="#fff"/>
<rect x="1166.20" y="820.00" width="194.50" height="2.70" fill="#fff"/>
<rect x="1166.20" y="792.30" width="3.40" height="30.40" fill="#fff"/>
<rect x="1358.00" y="792.30" width="2.70" height="30.40" fill="#fff"/>
<rect x="1357.0" y="818.6" width="6.0" height="6.2" fill="#111"/>
<rect x="1358.4" y="819.2" width="2.8" height="3.8" fill="#fff"/>
<rect x="1359.2" y="818.6" width="1.6" height="6.2" fill="#fff"/>
<rect x="1357.0" y="820.6" width="6.0" height="2.0" fill="#fff"/>
</svg>
<div class="t title" style="left:653.3px;top:87.30px">Check list paprskoploutvých ryb - Actinopterygii</div>
<div class="t sub" style="left:752.7px;top:123.50px">identifikovaných v zálivu Abu Dabab Egypt</div>
<div class="t hb" style="left:13.6px;top:178.45px">Acanthuriformes</div>
<div class="t r" style="left:13.6px;top:207.84px">Acanthuridae</div>
<div class="t r" style="left:193.3px;top:207.84px">bodlokovití</div>
<div class="t r" style="left:356.1px;top:207.84px">Acanthurus leucisternon</div>
<div class="t r" style="left:649.9px;top:207.84px">bodlok fialový</div>
<div class="t g" style="left:906.0px;top:207.84px">G</div>
<div class="t r" style="left:356.1px;top:237.23px">Acanthurus lineatus</div>
<div class="t r" style="left:649.9px;top:237.23px">bodlok jednorohý</div>
<div class="t r" style="left:356.1px;top:266.62px">Acanthurus nigricauda</div>
<div class="t r" style="left:649.9px;top:266.62px">bodlok rudomořský</div>
<div class="t g" style="left:906.0px;top:266.62px">G</div>
<div class="t r" style="left:356.1px;top:296.01px">Naso elegans</div>
<div class="t r" style="left:649.9px;top:296.01px">bodlok půvabný</div>
<div class="t g" style="left:906.0px;top:296.01px">G</div>
<div class="t r" style="left:356.1px;top:325.40px">Zebrasoma desjardinii</div>
<div class="t r" style="left:649.9px;top:325.40px">bodlok Desjardinův</div>
<div class="t g" style="left:906.0px;top:325.40px">G</div>
<div class="t r" style="left:13.6px;top:354.79px">Chaetodontidae</div>
<div class="t r" style="left:193.3px;top:354.79px">klipkovití</div>
<div class="t r" style="left:356.1px;top:354.79px">Chaetodon auriga</div>
<div class="t r" style="left:649.9px;top:354.79px">klipka praporková</div>
<div class="t g" style="left:906.0px;top:354.79px">G</div>
<div class="t r" style="left:356.1px;top:384.18px">Chaetodon citrinellus</div>
<div class="t r" style="left:649.9px;top:384.18px">klipka černohřbetá</div>
<div class="t r" style="left:356.1px;top:413.57px">Chaetodon collare</div>
<div class="t r" style="left:649.9px;top:413.57px">klipka krokvicová</div>
<div class="t r" style="left:356.1px;top:442.96px">Chaetodon falcula</div>
<div class="t r" style="left:649.9px;top:442.96px">klipka páskovaná</div>
<div class="t g" style="left:906.0px;top:442.96px">G</div>
<div class="t r" style="left:356.1px;top:472.35px">Chaetodon lineolatus</div>
<div class="t r" style="left:649.9px;top:472.35px">klipka velká</div>
<div class="t r" style="left:356.1px;top:501.74px">Chaetodon meyeri</div>
<div class="t r" style="left:649.9px;top:501.74px">klipka pološkrabošková</div>
<div class="t g" style="left:906.0px;top:501.74px">G</div>
<div class="t r" style="left:356.1px;top:531.13px">Chaetodon multicinctus</div>
<div class="t r" style="left:649.9px;top:531.13px">klipka prostřední</div>
<div class="t g" style="left:906.0px;top:531.13px">G</div>
<div class="t r" style="left:356.1px;top:560.52px">Chaetodon xanthocephalus</div>
<div class="t r" style="left:649.9px;top:560.52px">klipka rudomořská</div>
<div class="t g" style="left:906.0px;top:560.52px">G</div>
<div class="t r" style="left:356.1px;top:589.91px">Forcipinger longirostris</div>
<div class="t r" style="left:649.9px;top:589.91px">klipka rudoskvrnná</div>
<div class="t g" style="left:906.0px;top:589.91px">G</div>
<div class="t r" style="left:13.6px;top:619.30px">Pomacanthidae</div>
<div class="t r" style="left:193.3px;top:619.30px">pomcovití</div>
<div class="t r" style="left:356.1px;top:619.30px">Pygoplites diacanthus</div>
<div class="t r" style="left:649.9px;top:619.30px">pomec paví</div>
<div class="t g" style="left:906.0px;top:619.30px">G</div>
<div class="t r" style="left:13.6px;top:648.69px">Siganidae</div>
<div class="t r" style="left:193.3px;top:648.69px">králíčkovcovití</div>
<div class="t r" style="left:356.1px;top:648.69px">Siganus corallinus</div>
<div class="t r" style="left:649.9px;top:648.69px">králíčkovec rudomořský</div>
<div class="t g" style="left:906.0px;top:648.69px">G</div>
<div class="t r" style="left:356.1px;top:678.08px">Siganus stellatus</div>
<div class="t r" style="left:649.9px;top:678.08px">králíčkovec tečkovaný</div>
<div class="t g" style="left:906.0px;top:678.08px">G</div>
<div class="t hb" style="left:13.6px;top:707.47px;letter-spacing:0.15px">Anguillifirmes</div>
<div class="t hb" style="left:193.3px;top:707.47px">holobřiší</div>
<div class="t r" style="left:13.6px;top:736.86px">Muraenidae</div>
<div class="t r" style="left:193.3px;top:736.86px">murénovití</div>
<div class="t r" style="left:356.1px;top:736.86px">Gymnothorax javanicus</div>
<div class="t r" style="left:649.9px;top:736.86px">muréna jávská</div>
<div class="t g" style="left:906.0px;top:736.86px">G</div>
<div class="t hb" style="left:13.6px;top:766.25px">Beloniformes</div>
<div class="t hb" style="left:193.3px;top:766.25px">jehlotvaří</div>
<div class="t r" style="left:13.6px;top:795.64px">Belonidae</div>
<div class="t r" style="left:193.3px;top:795.64px">jehlicovití</div>
<div class="t r" style="left:356.1px;top:795.64px">Tylosurus crocodilus</div>
<div class="t r" style="left:649.9px;top:795.64px">jehlice krokodýlí</div>
<div class="t hb" style="left:13.6px;top:825.03px">Carangiformes</div>
<div class="t r" style="left:13.6px;top:854.42px">Carangidae</div>
<div class="t r" style="left:193.3px;top:854.42px">kranasovití</div>
<div class="t r" style="left:356.1px;top:854.42px">Caranx ignobilis</div>
<div class="t r" style="left:649.9px;top:854.42px">kranas velký</div>
<div class="t g" style="left:906.0px;top:854.42px">G</div>
<div class="t r" style="left:356.1px;top:883.81px">Trachinotus blochii</div>
<div class="t r" style="left:649.9px;top:883.81px">vidlatka blochova</div>
<div class="t hb" style="left:13.6px;top:913.20px">Centrarchiformes</div>
<div class="t r" style="left:13.6px;top:942.59px">Cirrhitidae</div>
<div class="t r" style="left:193.3px;top:942.59px">štětičkovcovití</div>
<div class="t r" style="left:356.1px;top:942.59px">Paracirrhites forsteri</div>
<div class="t r" style="left:649.9px;top:942.59px">štětičkovec Forsterův</div>
<div class="t g" style="left:906.0px;top:942.59px">G</div>
<div class="t hb" style="left:13.6px;top:971.98px">Perciformes</div>
<div class="t hb" style="left:193.3px;top:971.98px">ostnoploutví</div>
<div class="t r" style="left:13.6px;top:1001.37px">Caesionidae</div>
<div class="t r" style="left:193.3px;top:1001.37px">chňápalkovití</div>
<div class="t r" style="left:356.1px;top:1001.37px">Caesio suevica</div>
<div class="t r" style="left:649.9px;top:1001.37px">chňápálek rudomořský</div>
<div class="t g" style="left:906.0px;top:1001.37px">G</div>
<div class="t r" style="left:13.6px;top:1030.76px">Labridae</div>
<div class="t r" style="left:193.3px;top:1030.76px">pyskounovití</div>
<div class="t r" style="left:356.1px;top:1030.76px">Cheilinus abudjubbe</div>
<div class="t r" style="left:649.9px;top:1030.76px">pyskoun abudjubbský</div>
<div class="t g" style="left:906.0px;top:1030.76px">G</div>
<div class="t r" style="left:356.1px;top:1060.15px">Cheilinus lunulatus</div>
<div class="t r" style="left:649.9px;top:1060.15px">pyskoun střapcový</div>
<div class="t g" style="left:906.0px;top:1060.15px">G</div>
<div class="t r" style="left:356.1px;top:1089.54px">Coris aygula</div>
<div class="t r" style="left:649.9px;top:1089.54px">kněžík pestrý</div>
<div class="t r" style="left:356.1px;top:1118.93px">Epibulus insidiator</div>
<div class="t r" style="left:649.9px;top:1118.93px">pyskoun trubkotlamý</div>
<div class="t g" style="left:906.0px;top:1118.93px">G</div>
<div class="t r" style="left:356.1px;top:1148.32px">Gomphosus caeruleus</div>
<div class="t r" style="left:649.9px;top:1148.32px">akilolo nosatý</div>
<div class="t g" style="left:906.0px;top:1148.32px">G</div>
<div class="t hb" style="left:952.5px;top:178.45px">Perciformes</div>
<div class="t hb" style="left:1172.5px;top:178.45px">ostnoploutví</div>
<div class="t r" style="left:952.5px;top:207.84px">Labridae</div>
<div class="t r" style="left:1172.5px;top:207.84px">pyskounovití</div>
<div class="t r" style="left:1364.5px;top:207.84px">Halichoeres melanurus</div>
<div class="t r" style="left:1654.6px;top:207.84px">kněžík doutníkový</div>
<div class="t r" style="left:1364.5px;top:237.23px">Thalassoma hardwicke</div>
<div class="t r" style="left:1654.6px;top:237.23px">kněžík Hardwickův</div>
<div class="t g" style="left:1948.8px;top:237.23px">G</div>
<div class="t r" style="left:952.5px;top:266.62px">Lethrinidae</div>
<div class="t r" style="left:1172.5px;top:266.62px">cejnovkovití</div>
<div class="t r" style="left:1364.5px;top:266.62px">Monotaxis grandoculis</div>
<div class="t r" style="left:1654.6px;top:266.62px">cejnovka velkooká</div>
<div class="t r" style="left:952.5px;top:296.01px">Lutjanidae</div>
<div class="t r" style="left:1172.5px;top:296.01px">chňápalovití</div>
<div class="t r" style="left:1364.5px;top:296.01px">Lutjanus ehrenbergii</div>
<div class="t r" style="left:1654.6px;top:296.01px">chňápal Ehrenbergův</div>
<div class="t g" style="left:1948.8px;top:296.01px">G</div>
<div class="t r" style="left:952.5px;top:325.40px">Mullidae</div>
<div class="t r" style="left:1172.5px;top:325.40px">parmicovití</div>
<div class="t r" style="left:1364.5px;top:325.40px">Mulloidichthys flavolineatus</div>
<div class="t r" style="left:1654.6px;top:325.40px">parmice žlutopásá</div>
<div class="t g" style="left:1948.8px;top:325.40px">G</div>
<div class="t r" style="left:952.5px;top:354.79px">Pomacentridae</div>
<div class="t r" style="left:1172.5px;top:354.79px">sapínovití</div>
<div class="t r" style="left:1364.5px;top:354.79px">Abudefduf saxatilis</div>
<div class="t r" style="left:1654.6px;top:354.79px">útesník pruhovaný</div>
<div class="t g" style="left:1948.8px;top:354.79px">G</div>
<div class="t r" style="left:1364.5px;top:384.18px">Abudefduf sexfasciatus</div>
<div class="t r" style="left:1654.6px;top:384.18px">útesník šestipruhý</div>
<div class="t sm" style="left:1364.5px;top:416.67px">Amblyglyphidodon leucogaster</div>
<div class="t r" style="left:1654.6px;top:413.57px">sapínek bělobřichý</div>
<div class="t g" style="left:1948.8px;top:413.57px">G</div>
<div class="t r" style="left:1364.5px;top:442.96px">Pomacentrus sulfureus</div>
<div class="t r" style="left:1654.6px;top:442.96px">sapínek sírový</div>
<div class="t g" style="left:1948.8px;top:442.96px">G</div>
<div class="t r" style="left:1364.5px;top:472.35px">Stegastes nigricans</div>
<div class="t r" style="left:1654.6px;top:472.35px">sapín bojovný</div>
<div class="t g" style="left:1948.8px;top:472.35px">G</div>
<div class="t r" style="left:952.5px;top:501.74px">Scaridae</div>
<div class="t r" style="left:1172.5px;top:501.74px">ploskozubcovití</div>
<div class="t r" style="left:1364.5px;top:501.74px">Chlorurus sordidus</div>
<div class="t r" style="left:1654.6px;top:501.74px">ploskozubec tupohlavý</div>
<div class="t g" style="left:1948.8px;top:501.74px">G</div>
<div class="t r" style="left:1364.5px;top:531.13px">Scarus frenatus</div>
<div class="t r" style="left:1654.6px;top:531.13px">ploskozubec uzdičkový</div>
<div class="t r" style="left:1364.5px;top:560.52px">Scarus fuscopurpureus</div>
<div class="t r" style="left:1654.6px;top:560.52px">ploskozubec skvrnoboký</div>
<div class="t r" style="left:1364.5px;top:589.91px">Scarus niger</div>
<div class="t r" style="left:1654.6px;top:589.91px">ploskozubec černý</div>
<div class="t g" style="left:1948.8px;top:589.91px">G</div>
<div class="t r" style="left:1364.5px;top:619.30px">Scarus psittacus</div>
<div class="t r" style="left:1654.6px;top:619.30px">ploskozubec papouščí</div>
<div class="t g" style="left:1948.8px;top:619.30px">G</div>
<div class="t r" style="left:952.5px;top:648.69px">Serranidae</div>
<div class="t r" style="left:1172.5px;top:648.69px">kanicovití</div>
<div class="t r" style="left:1364.5px;top:648.69px">Cephalopholis argus</div>
<div class="t r" style="left:1654.6px;top:648.69px">kanic tmavý</div>
<div class="t g" style="left:1948.8px;top:648.69px">G</div>
<div class="t r" style="left:1364.5px;top:678.08px">Cephalopholis sexmaculata</div>
<div class="t r" style="left:1654.6px;top:678.08px">kanic šestiskvrnný</div>
<div class="t r" style="left:1364.5px;top:707.47px">Epinephelus spilotoceps</div>
<div class="t r" style="left:1654.6px;top:707.47px">kanic modroskvrnný</div>
<div class="t r" style="left:1364.5px;top:736.86px">Epinephelus tauvina</div>
<div class="t r" style="left:1654.6px;top:736.86px">kanic tauvina</div>
<div class="t g" style="left:1948.8px;top:736.86px">G</div>
<div class="t r" style="left:1364.5px;top:766.25px">Pseudanthias squamipinnis</div>
<div class="t r" style="left:1654.6px;top:766.25px">bradáč šupinoploutvý</div>
<div class="t hb" style="left:952.5px;top:795.64px">Scorpaeniformes</div>
<div class="t hb" style="left:1172.5px;top:795.64px">ropušnicotvaří</div>
<div class="t r" style="left:952.5px;top:825.03px">Scorpaenidae</div>
<div class="t r" style="left:1172.5px;top:825.03px">ropušnicovití</div>
<div class="t r" style="left:1364.5px;top:825.03px">Dendrochirus zebra</div>
<div class="t r" style="left:1654.6px;top:825.03px">perutýn pruhovaný</div>
<div class="t g" style="left:1948.8px;top:825.03px">G</div>
<div class="t r" style="left:1364.5px;top:854.42px">Pterois volitans</div>
<div class="t r" style="left:1654.6px;top:854.42px">perutýn ohnivý</div>
<div class="t r" style="left:1364.5px;top:883.81px">Pterois radiata</div>
<div class="t r" style="left:1654.6px;top:883.81px">perutýn ostnatý</div>
<div class="t hb" style="left:952.5px;top:913.20px">Tetraodontiformes</div>
<div class="t hb" style="left:1172.5px;top:913.20px">čtverzubci</div>
<div class="t r" style="left:952.5px;top:942.59px">Tetraodontidae</div>
<div class="t r" style="left:1172.5px;top:942.59px">čtverzubcovití</div>
<div class="t r" style="left:1364.5px;top:942.59px">Arothron meleagris</div>
<div class="t r" style="left:1654.6px;top:942.59px">čtverzubec běloskvrnný</div>
<div class="t g" style="left:1948.8px;top:942.59px">G</div>
<div class="t r" style="left:1364.5px;top:971.98px">Arothron nigropunctatus</div>
<div class="t r" style="left:1654.6px;top:971.98px">čtverzubec maskovaný</div>
<div class="t g" style="left:1948.8px;top:971.98px">G</div>
<div class="t r" style="left:1364.5px;top:1001.37px">Canthigaster valentini</div>
<div class="t r" style="left:1654.6px;top:1001.37px">hranobřich perleťový</div>
<div class="t r" style="left:952.5px;top:1030.76px">Ostraciidae</div>
<div class="t r" style="left:1172.5px;top:1030.76px">havýšovití</div>
<div class="t r" style="left:1364.5px;top:1030.76px">Ostracion cyanurus</div>
<div class="t r" style="left:1654.6px;top:1030.76px">havýš modrý</div>
<div class="t r" style="left:1364.5px;top:1060.15px">Ostracion cubicus</div>
<div class="t r" style="left:1654.6px;top:1060.15px">havýš žlutohnědý</div>
<div class="t g" style="left:1948.8px;top:1060.15px">G</div>
<div class="t r" style="left:952.5px;top:1089.54px">Balistidae</div>
<div class="t r" style="left:1172.5px;top:1089.54px">ostencovití</div>
<div class="t r" style="left:1364.5px;top:1089.54px">Balistapus undulatus</div>
<div class="t r" style="left:1654.6px;top:1089.54px">ostenec oranžovoproužkatý</div>
<div class="t g" style="left:1948.8px;top:1089.54px">G</div>
<div class="t r" style="left:1364.5px;top:1118.93px">Balistoides viridescens</div>
<div class="t r" style="left:1654.6px;top:1118.93px">ostenec zelenavý</div>
<div class="t g" style="left:1948.8px;top:1118.93px">G</div>
<div class="t r" style="left:1364.5px;top:1148.32px">Rhinecanthus assasi</div>
<div class="t r" style="left:1654.6px;top:1148.32px">ostenec arabský</div>
<div class="t g" style="left:1948.8px;top:1148.32px">G</div>
</body></html>
